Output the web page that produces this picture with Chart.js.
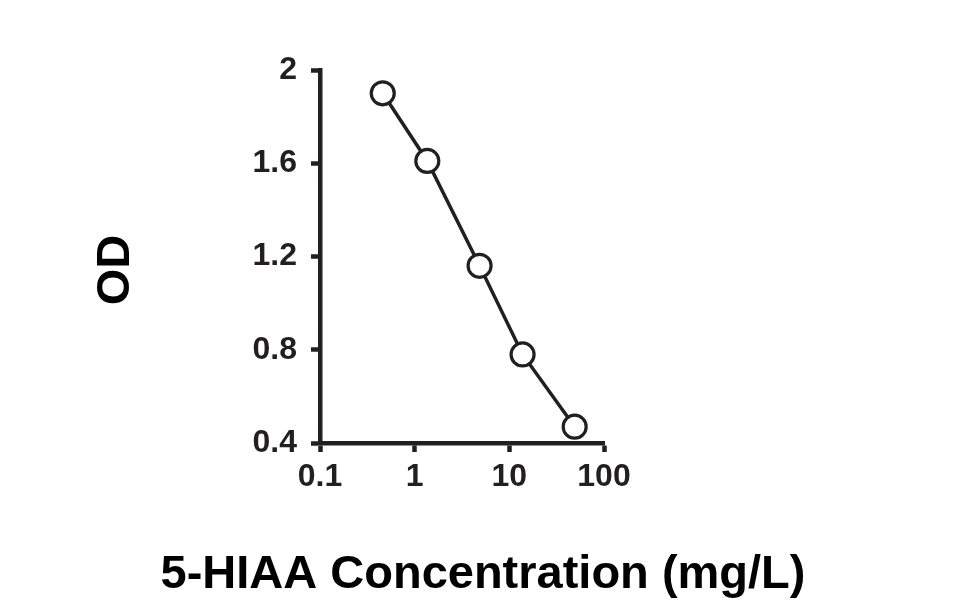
<!DOCTYPE html>
<html>
<head>
<meta charset="utf-8">
<script src="https://cdn.jsdelivr.net/npm/chart.js@4.4.0/dist/chart.umd.min.js"></script>
<style>
    html, body { margin: 0; padding: 0; background: #fff; }
    #wrap { width: 966px; height: 612px; }
</style>
</head>
<body>
<div id="wrap"><canvas id="myChart" width="966" height="612"></canvas></div>
<script>
// concentration (mg/L) and OD
let conc = [0.46, 1.36, 4.85, 13.8, 49];
let od = [1.90, 1.61, 1.16, 0.78, 0.47];
let x_ticks = [0.1, 1, 10, 100];
let y_ticks = [0.4, 0.8, 1.2, 1.6, 2];
let x_title = '5-HIAA Concentration (mg/L)';
let y_title = 'OD';

const ink = '#231f20';
const fam = "'Liberation Sans', Arial, sans-serif";

let pts = conc.map((c, i) => ({ x: c, y: od[i] }));

// the built-in scale title squeezes text to the axis width, so draw the two titles here
const axis_titles = {
    id: 'axis_titles',
    afterDraw(chart) {
        const c = chart.ctx;
        c.save();
        c.fillStyle = '#000';
        c.font = `bold 47px ${fam}`;
        c.textAlign = 'center';
        c.textBaseline = 'alphabetic';
        c.fillText(x_title, chart.width / 2, 588);
        c.translate(129, 270);
        c.rotate(-Math.PI / 2);
        c.fillText(y_title, 0, 0);
        c.restore();
    }
};

var ctx = document.getElementById('myChart');
let chart = new Chart(ctx, {
    type: 'scatter',
    data: {
        datasets: [
            {
                label: 'OD',
                data: pts,
                showLine: true,
                borderColor: ink,
                borderWidth: 3.5,
                pointRadius: 11.5,
                pointBorderWidth: 3.2,
                pointBackgroundColor: '#fff',
                pointBorderColor: ink,
                tension: 0
            }
        ]
    },
    options: {
        responsive: false,
        animation: false,
        layout: { padding: { left: 84, top: 70, right: 362, bottom: 8 } },
        scales: {
            x: {
                type: 'logarithmic',
                min: 0.1,
                max: 100,
                afterBuildTicks: (s) => { s.ticks = x_ticks.map(v => ({ value: v })); },
                afterFit: (s) => { s.height = 612 - 443 - 8; },
                border: { display: true, width: 4.5, color: ink },
                grid: { drawOnChartArea: false, drawTicks: true, tickLength: 9, tickWidth: 4.5, tickColor: ink },
                ticks: {
                    color: ink,
                    padding: 6,
                    maxRotation: 0,
                    font: { family: fam, size: 32, weight: 'bold' },
                    callback: (v) => String(v)
                }
            },
            y: {
                min: 0.4,
                max: 2,
                afterBuildTicks: (s) => { s.ticks = y_ticks.map(v => ({ value: v })); },
                afterFit: (s) => { s.width = 320 - 84; },
                border: { display: true, width: 4.5, color: ink },
                grid: { drawOnChartArea: false, drawTicks: true, tickLength: 9, tickWidth: 4.5, tickColor: ink },
                ticks: {
                    color: ink,
                    padding: 14,
                    font: { family: fam, size: 32, weight: 'bold' },
                    callback: (v) => (v === 2 ? '2' : v.toFixed(1))
                }
            }
        },
        plugins: {
            legend: { display: false },
            tooltip: { enabled: false }
        }
    },
    plugins: [axis_titles]
});
</script>
</body>
</html>
